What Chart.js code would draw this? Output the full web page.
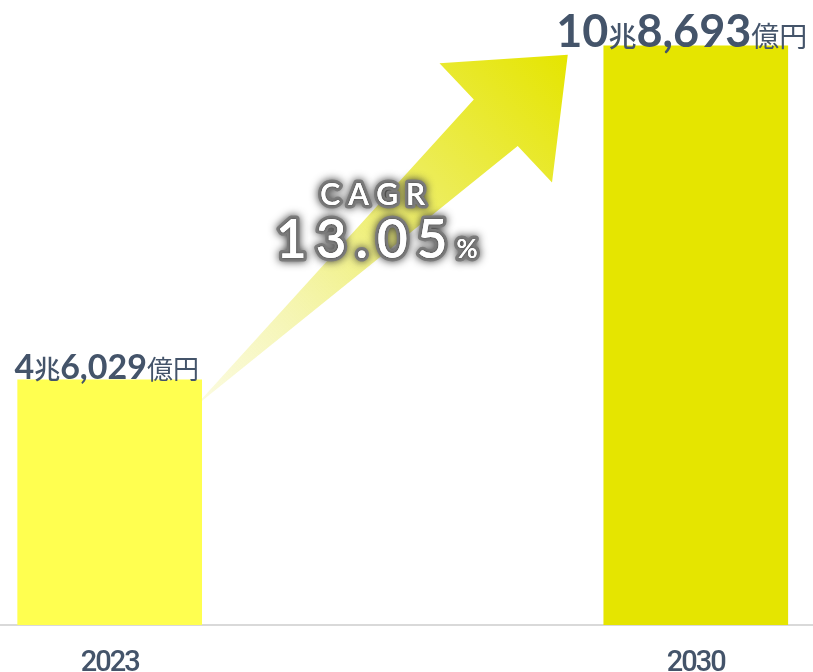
<!DOCTYPE html>
<html lang="ja">
<head>
<meta charset="utf-8">
<script src="https://cdn.jsdelivr.net/npm/chart.js@4/dist/chart.umd.min.js"></script>
<style>
  html, body { margin: 0; padding: 0; background: #fff; }
  #wrap { width: 813px; height: 672px; position: relative; }
</style>
</head>
<body>
<div id="wrap"><canvas id="marketChart"></canvas></div>
<script>
// 市場規模（億円）
const years = [2023, 2030];
const marketValues = [46029, 108693];
const barColors = ["#ffff50", "#e5e500"];
const cagrLabel = "CAGR";
const cagrValue = "13.05";

const ink = "#44546a";
const jpFont = '"Noto Sans CJK JP", sans-serif';
const numFont = 'Lato, "Noto Sans", sans-serif';

// 4兆6,029億円 のような表記に分解
function splitOku(v) {
  const cho = Math.floor(v / 10000);
  const oku = v % 10000;
  return [String(cho), "兆", oku.toLocaleString("en-US"), "億円"];
}

// 年ラベルは詰め気味に
const tightTicks = {
  id: "tightTicks",
  beforeDraw(chart) { chart.ctx.letterSpacing = "-2px"; },
  beforeDatasetsDraw(chart) { chart.ctx.letterSpacing = "0px"; }
};

// 矢印（2023 → 2030）とCAGR
const arrowPlugin = {
  id: "arrow",
  beforeDatasetsDraw(chart) {
    const bars = chart.getDatasetMeta(0).data;
    if (bars.length < 2) return;
    const a = bars[0], b = bars[1];
    const tail = { x: a.x + a.width / 2 - 7, y: a.y + 27 };
    const tip = { x: b.x - b.width / 2 - 36, y: b.y + 9 };
    const dx = tip.x - tail.x, dy = tip.y - tail.y;
    const len = Math.hypot(dx, dy);
    const ux = dx / len, uy = dy / len;
    const nx = -uy, ny = ux;
    const headLen = 99, headHalf = 82, shaftHalf = 32;
    const bx = tip.x - ux * headLen, by = tip.y - uy * headLen;
    const ctx = chart.ctx;
    ctx.save();
    const g = ctx.createLinearGradient(tail.x, tail.y, tip.x, tip.y);
    g.addColorStop(0, "rgba(248,248,205,0.6)");
    g.addColorStop(0.5, "#efef78");
    g.addColorStop(1, "#e5e500");
    ctx.fillStyle = g;
    ctx.beginPath();
    ctx.moveTo(tail.x, tail.y);
    ctx.lineTo(bx + nx * shaftHalf, by + ny * shaftHalf);
    ctx.lineTo(bx + nx * headHalf, by + ny * headHalf);
    ctx.lineTo(tip.x, tip.y);
    ctx.lineTo(bx - nx * headHalf, by - ny * headHalf);
    ctx.lineTo(bx - nx * shaftHalf, by - ny * shaftHalf);
    ctx.closePath();
    ctx.fill();
    ctx.restore();
  },
  afterDatasetsDraw(chart) {
    const ctx = chart.ctx;
    const bars = chart.getDatasetMeta(0).data;
    const a = bars[0], b = bars[1];
    const cx = (a.x + b.x) / 2 - 26;
    ctx.save();
    ctx.textBaseline = "alphabetic";
    ctx.textAlign = "left";
    function glowText(parts, baseY) {
      let total = 0;
      parts.forEach(p => {
        ctx.font = p.font;
        ctx.letterSpacing = p.ls;
        p.w = ctx.measureText(p.t).width;
        total += p.w;
      });
      let x = cx - total / 2;
      parts.forEach(p => {
        ctx.font = p.font;
        ctx.letterSpacing = p.ls;
        ctx.shadowColor = "rgba(60,60,60,1)";
        ctx.shadowBlur = 8;
        ctx.lineJoin = "round";
        ctx.strokeStyle = "rgba(125,125,125,1)";
        ctx.lineWidth = 7;
        ctx.strokeText(p.t, x, baseY);
        ctx.shadowBlur = 3;
        ctx.fillStyle = "#ffffff";
        ctx.fillText(p.t, x, baseY);
        ctx.shadowBlur = 0;
        ctx.fillText(p.t, x, baseY);
        x += p.w;
      });
    }
    glowText([{ t: cagrLabel, font: "600 30px " + numFont, ls: "8px" }], 205);
    glowText([
      { t: cagrValue, font: "600 53px " + numFont, ls: "9px" },
      { t: "%", font: "600 26px " + numFont, ls: "0px" }
    ], 258);
    ctx.restore();
  }
};

// 棒の上の金額ラベル
const valueLabelPlugin = {
  id: "valueLabels",
  afterDatasetsDraw(chart) {
    const ctx = chart.ctx;
    const meta = chart.getDatasetMeta(0);
    const sizes = [{ big: 34, small: 26, shift: -3, lift: 1 }, { big: 45, small: 28, shift: -14, lift: -1 }];
    meta.data.forEach((bar, i) => {
      const s = sizes[i];
      const parts = splitOku(marketValues[i]).map((t, k) => ({
        t,
        font: k % 2 === 0 ? `700 ${s.big}px ${numFont}` : `${k === 1 ? 500 : 400} ${s.small}px ${jpFont}`
      }));
      ctx.save();
      ctx.textBaseline = "alphabetic";
      ctx.textAlign = "left";
      ctx.fillStyle = ink;
      let total = 0;
      parts.forEach(p => { ctx.font = p.font; p.w = ctx.measureText(p.t).width; total += p.w; });
      let x = bar.x + s.shift - total / 2;
      const y = bar.y - s.lift;
      parts.forEach(p => { ctx.font = p.font; ctx.fillText(p.t, x, y); x += p.w; });
      ctx.restore();
    });
  }
};

new Chart(document.getElementById("marketChart"), {
  type: "bar",
  data: {
    datasets: [{
      data: years.map((y, i) => ({ x: y, y: marketValues[i] })),
      backgroundColor: barColors,
      borderWidth: 0,
      barThickness: 184
    }]
  },
  options: {
    responsive: true,
    maintainAspectRatio: false,
    animation: false,
    layout: { padding: 0 },
    plugins: { legend: { display: false }, tooltip: { enabled: false } },
    scales: {
      x: {
        type: "linear",
        offset: false,
        min: 2021.69,
        max: 2031.4,
        grid: { display: false },
        border: { display: true, color: "#d9d9d9", width: 2 },
        afterBuildTicks: (scale) => { scale.ticks = years.map(v => ({ value: v })); },
        afterFit: (scale) => { scale.height = 47; },
        ticks: {
          color: ink,
          padding: 16,
          maxRotation: 0,
          autoSkip: false,
          font: { family: 'Roboto, "Liberation Sans", sans-serif', weight: 500, size: 29, lineHeight: 1 },
          callback: (v) => String(v)
        }
      },
      y: { display: false, min: 0, max: 117300 }
    }
  },
  plugins: [tightTicks, arrowPlugin, valueLabelPlugin]
});
</script>
</body>
</html>
